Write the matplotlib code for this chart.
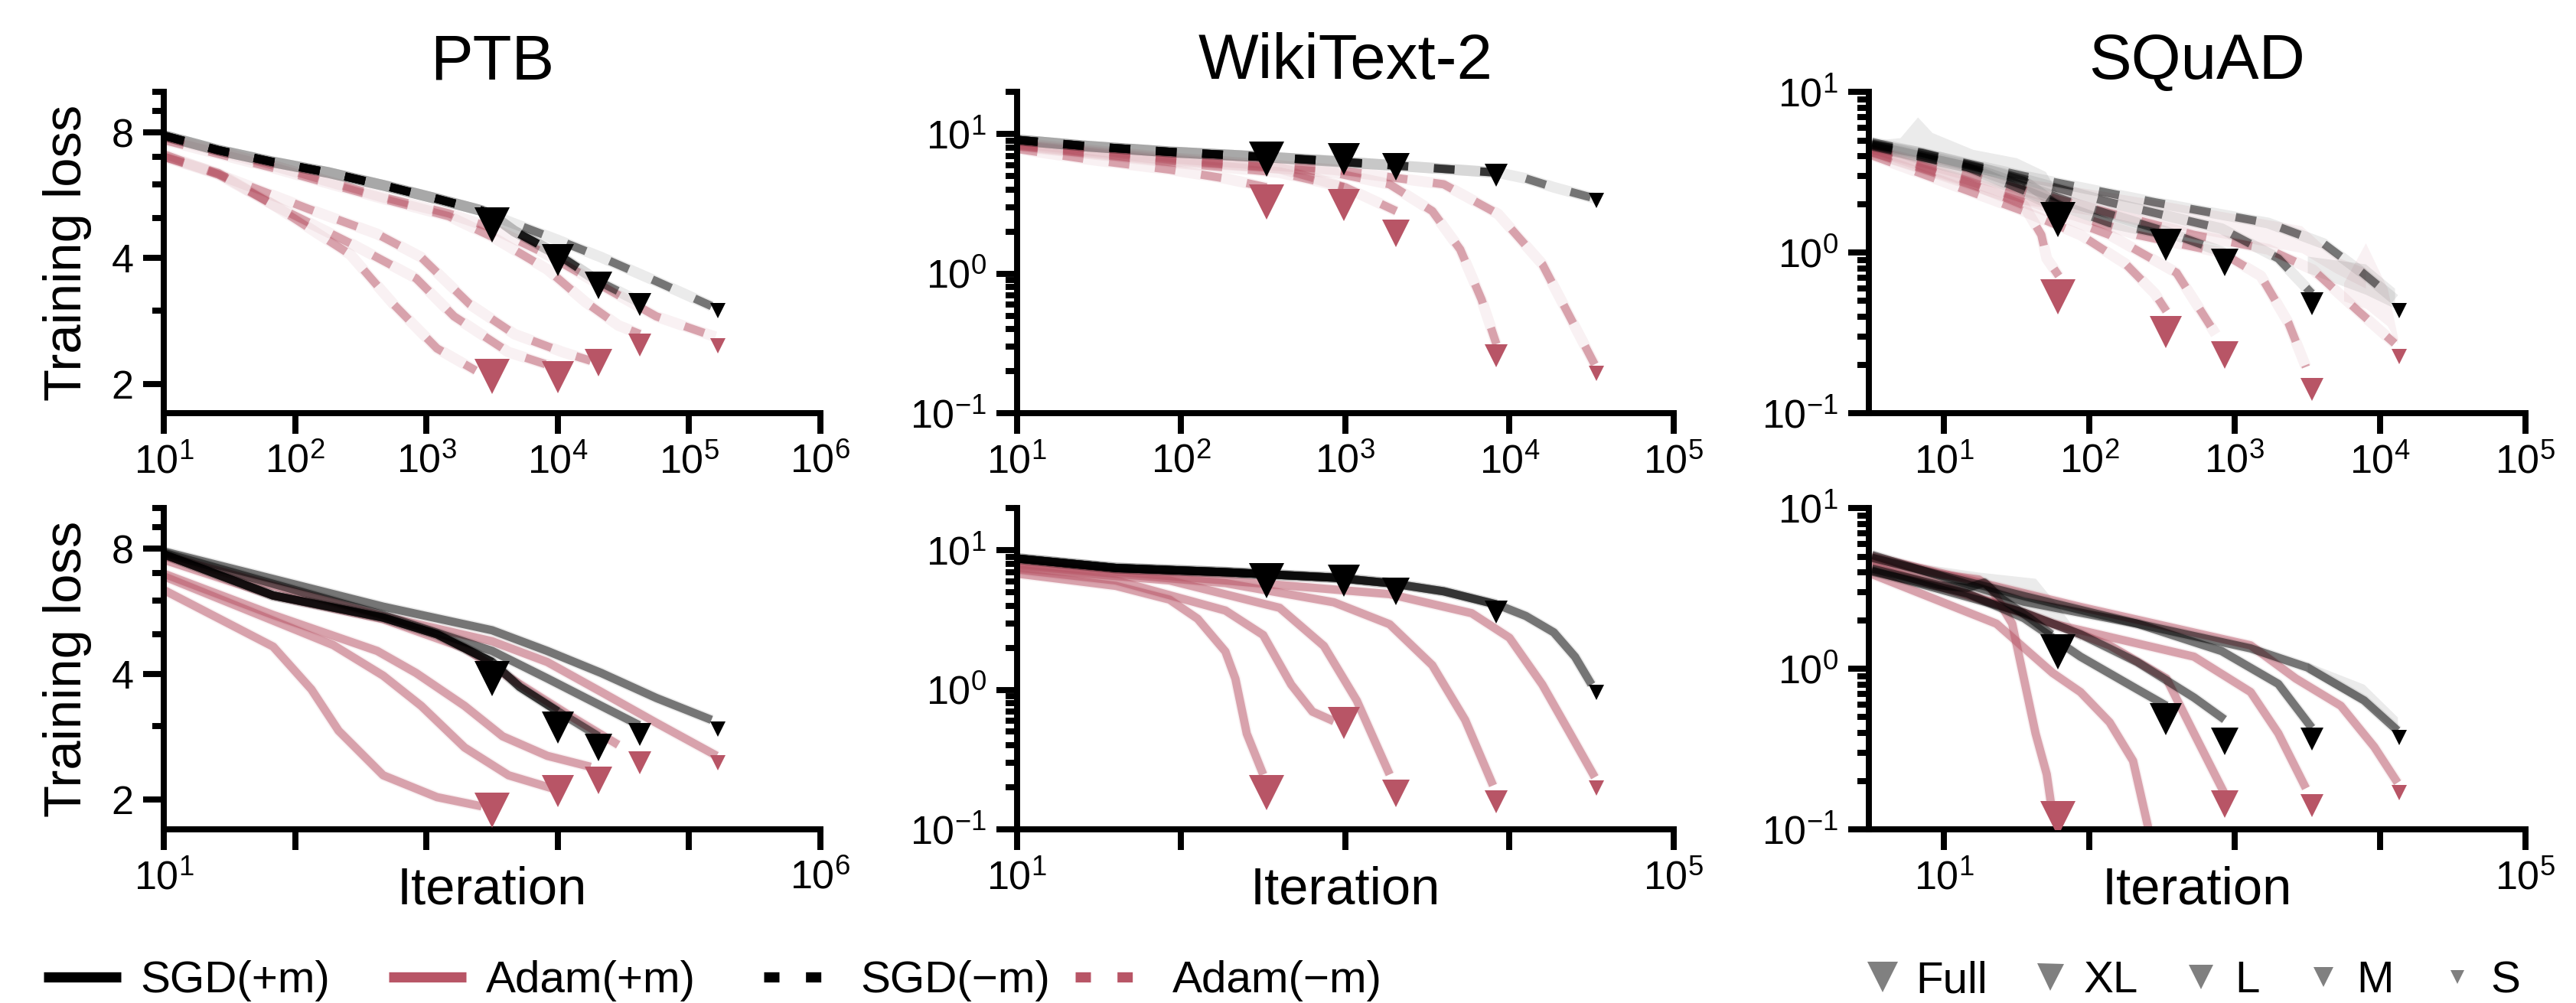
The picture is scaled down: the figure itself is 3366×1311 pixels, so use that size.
import numpy as np
import matplotlib
matplotlib.use("Agg")
import matplotlib.pyplot as plt
from matplotlib.lines import Line2D
from matplotlib.ticker import NullLocator, NullFormatter, FixedLocator

plt.rcParams["font.family"] = ["Liberation Sans", "DejaVu Sans"]
plt.rcParams["mathtext.default"] = "regular"

SIZES = ["Full", "XL", "L", "M", "S"]
DATASETS = ["PTB", "WikiText-2", "SQuAD"]

# final iteration of each model size, per dataset
PTB_END = [3162, 10000, 20417, 42170, 165959]
WIKI_END = [331, 977, 2042, 8318, 33884]
SQUAD_END = [61, 335, 851, 3388, 13490]

# ---------------- PTB, no momentum (top) ----------------
PTB_SGD_NOM = {
    "Full": ([10, 26, 68, 178, 468, 1202, 2630, 3162], [7.87, 7.26, 6.80, 6.42, 5.98, 5.55, 5.20, 5.07]),
    "XL": ([10, 26, 68, 178, 468, 1202, 2630, 3162, 4677, 10000], [7.87, 7.26, 6.80, 6.42, 5.98, 5.55, 5.20, 5.07, 4.64, 4.08]),
    "L": ([10, 26, 68, 178, 468, 1202, 2630, 3162, 4677, 10000, 20417], [7.87, 7.26, 6.80, 6.42, 5.98, 5.55, 5.20, 5.07, 4.64, 4.08, 3.52]),
    "M": ([10, 26, 68, 178, 468, 1202, 2630, 3162, 4677, 10000, 20417, 42170], [7.87, 7.26, 6.80, 6.42, 5.98, 5.55, 5.20, 5.07, 4.64, 4.08, 3.52, 3.14]),
    "S": ([10, 26, 68, 178, 468, 1202, 2630, 3162, 10000, 21380, 56234, 147911], [7.87, 7.26, 6.80, 6.42, 5.98, 5.55, 5.20, 5.07, 4.42, 4.02, 3.52, 3.07]),
}
PTB_ADAM_NOM = {
    "Full": ([10, 26, 68, 263, 562, 1202, 2371], [7.0, 6.35, 5.37, 4.08, 3.10, 2.43, 2.15]),
    "XL": ([10, 26, 68, 288, 832, 1622, 4217, 9120], [7.0, 6.4, 5.37, 4.28, 3.58, 2.90, 2.38, 2.20]),
    "L": ([10, 32, 126, 422, 912, 2138, 4677, 10965, 17783], [7.1, 6.2, 5.25, 4.57, 4.02, 3.10, 2.63, 2.38, 2.27]),
    "M": ([10, 68, 468, 1479, 3162, 8318, 16218, 28840, 42170], [7.68, 6.58, 5.55, 5.04, 4.5, 3.76, 3.14, 2.76, 2.63]),
    "S": ([10, 68, 468, 1479, 3162, 8318, 21380, 56234, 158489], [7.8, 6.67, 5.6, 5.12, 4.72, 4.08, 3.44, 2.90, 2.59]),
}
PTB_SGD_NOM_FINAL = [4.8, 3.95, 3.44, 3.1, 3.0]
PTB_ADAM_NOM_FINAL = [2.08, 2.07, 2.25, 2.48, 2.47]

# ---------------- PTB, momentum (bottom) ----------------
PTB_SGD_MOM = {
    "Full": ([10, 68, 468, 1202, 3162], [7.76, 6.18, 5.47, 4.99, 4.28]),
    "XL": ([10, 68, 468, 1202, 3162, 5129, 10000], [7.76, 6.18, 5.47, 4.99, 4.28, 3.73, 3.26]),
    "L": ([10, 68, 468, 1202, 3162, 5129, 10000, 20417], [7.76, 6.18, 5.47, 4.99, 4.28, 3.73, 3.26, 2.84]),
    "M": ([10, 468, 3162, 8318, 21380, 41687], [7.82, 5.55, 4.55, 3.91, 3.36, 3.02]),
    "S": ([10, 68, 468, 3162, 8318, 21380, 56234, 147911], [7.88, 6.77, 5.81, 5.1, 4.55, 4.03, 3.51, 3.11]),
}
PTB_ADAM_MOM = {
    "Full": ([10, 68, 133, 214, 468, 1202, 2630], [6.37, 4.66, 3.68, 2.93, 2.29, 2.03, 1.93]),
    "XL": ([10, 68, 195, 468, 912, 1950, 4217, 9120], [6.87, 5.38, 4.70, 3.97, 3.36, 2.67, 2.29, 2.13]),
    "L": ([10, 68, 422, 832, 1950, 3802, 8318, 17783], [6.97, 5.55, 4.55, 4.03, 3.36, 2.84, 2.55, 2.40]),
    "M": ([10, 68, 468, 1950, 5129, 12023, 28840], [7.53, 6.18, 5.42, 4.62, 3.79, 3.2, 2.71]),
    "S": ([10, 468, 3162, 8318, 21380, 56234, 162181], [7.7, 5.51, 4.8, 4.28, 3.63, 3.06, 2.55]),
}
PTB_SGD_MOM_FINAL = [3.91, 2.98, 2.67, 2.87, 2.95]
PTB_ADAM_MOM_FINAL = [1.89, 2.1, 2.23, 2.45, 2.45]

# ---------------- WikiText-2, no momentum ----------------
WIKI_SGD_NOM = {
    "Full": ([10, 27, 85, 331], [9.1, 8.2, 7.47, 6.85]),
    "XL": ([10, 27, 85, 398, 977], [9.1, 8.2, 7.47, 6.77, 6.4]),
    "L": ([10, 27, 85, 398, 2042], [9.1, 8.2, 7.47, 6.77, 5.95]),
    "M": ([10, 27, 85, 398, 1862, 8318], [9.1, 8.2, 7.47, 6.77, 6.0, 5.3]),
    "S": ([10, 27, 85, 398, 1862, 8511, 12589, 18621, 29512, 33884], [9.1, 8.2, 7.47, 6.77, 6.0, 5.3, 4.81, 4.16, 3.59, 3.45]),
}
WIKI_ADAM_NOM = {
    "Full": ([10, 27, 85, 186, 331], [7.84, 6.6, 5.57, 4.81, 4.16]),
    "XL": ([10, 85, 398, 977], [8.2, 6.3, 5.3, 4.16]),
    "L": ([10, 85, 398, 1000, 2042], [8.3, 6.44, 5.7, 4.16, 2.81]),
    "M": ([10, 85, 851, 1862, 3388, 5012, 6761, 8318], [8.4, 6.6, 5.3, 4.37, 2.81, 1.49, 0.652, 0.313]),
    "S": ([10, 85, 851, 3981, 8511, 15849, 23442, 33113], [8.63, 6.77, 5.57, 4.37, 2.68, 1.17, 0.485, 0.222]),
}
WIKI_SGD_NOM_FINAL = [6.6, 6.6, 5.85, 5.05, 3.34]
WIKI_ADAM_NOM_FINAL = [3.26, 3.1, 1.95, 0.258, 0.192]

# ---------------- WikiText-2, momentum ----------------
WIKI_SGD_MOM = {
    "Full": ([10, 40, 186, 331], [8.74, 7.47, 6.97, 6.75]),
    "XL": ([10, 40, 186, 851, 977], [8.74, 7.47, 6.97, 6.37, 6.3]),
    "L": ([10, 40, 186, 851, 1862, 2042], [8.74, 7.47, 6.97, 6.37, 5.82, 5.7]),
    "M": ([10, 40, 186, 851, 1862, 3981, 8318], [8.74, 7.47, 6.97, 6.37, 5.82, 5.08, 4.1]),
    "S": ([10, 40, 186, 851, 1862, 3981, 8511, 12589, 18621, 25119, 31623], [8.74, 7.47, 6.97, 6.37, 5.82, 5.08, 4.06, 3.38, 2.58, 1.72, 1.09]),
}
WIKI_ADAM_MOM = {
    "Full": ([10, 40, 85, 126, 186, 214, 251, 316], [6.81, 5.56, 4.43, 3.23, 1.88, 1.2, 0.485, 0.247]),
    "XL": ([10, 40, 186, 316, 468, 631, 851], [7.29, 6.08, 3.7, 2.47, 1.09, 0.697, 0.596]),
    "L": ([10, 85, 398, 741, 1175, 1862], [7.47, 6.08, 3.87, 2.06, 0.836, 0.247]),
    "M": ([10, 186, 851, 1862, 3388, 5370, 7943], [7.8, 5.82, 4.24, 2.95, 1.5, 0.608, 0.206]),
    "S": ([10, 186, 1862, 5888, 10000, 15849, 23442, 33113], [7.98, 6.08, 4.85, 3.54, 2.36, 1.09, 0.485, 0.236]),
}
WIKI_SGD_MOM_FINAL = [6.08, 6.08, 5.08, 3.62, 0.955]
WIKI_ADAM_MOM_FINAL = [0.184, 0.58, 0.18, 0.157, 0.197]

# ---------------- SQuAD, no momentum ----------------
SQUAD_SGD_NOM = {
    "Full": ([3.2, 7.1, 17.4, 35.5, 61.7], [4.7, 4.2, 3.4, 2.8, 1.95]),
    "XL": ([3.2, 14.5, 56, 138, 339], [4.6, 3.41, 2.06, 1.53, 1.29]),
    "L": ([3.2, 17.4, 87, 339, 851], [4.68, 3.27, 1.97, 1.35, 1.0]),
    "M": ([3.2, 25, 138, 813, 1995, 3388], [4.78, 3.13, 2.06, 1.41, 0.92, 0.557]),
    "S": ([3.2, 35.5, 282, 1698, 4074, 7586, 12589], [4.89, 3.0, 2.06, 1.53, 1.14, 0.748, 0.512]),
}
SQUAD_ADAM_NOM = {
    "Full": ([3.2, 14.5, 35.5, 46.8, 51, 61.7], [4.22, 2.76, 1.97, 1.29, 0.92, 0.716]),
    "XL": ([3.2, 35.5, 87, 178, 282, 339], [4.04, 1.81, 1.29, 0.85, 0.557, 0.432]),
    "L": ([3.2, 35.5, 138, 398, 741], [4.22, 2.06, 1.29, 0.75, 0.31]),
    "M": ([3.2, 35.5, 214, 813, 1514, 2344, 3090], [4.4, 2.15, 1.29, 1.0, 0.716, 0.365, 0.194]),
    "S": ([3.2, 87, 525, 1698, 3467, 7079, 12589], [4.4, 1.97, 1.29, 1.05, 0.78, 0.432, 0.272]),
}
SQUAD_SGD_NOM_FINAL = [1.6, 1.12, 0.867, 0.48, 0.436]
SQUAD_ADAM_NOM_FINAL = [0.533, 0.321, 0.23, 0.141, 0.225]
# seed spread bands (kind, iteration, upper, lower)
SQUAD_NOM_BANDS = [
    ("sgd", [3.2, 5, 6.6, 8.3, 15.8, 31.6, 50, 63], [5.0, 5.2, 7.0, 5.6, 4.4, 3.9, 3.2, 2.2], [4.2, 3.9, 3.6, 3.4, 2.9, 2.3, 1.9, 1.6]),
    ("adam", [35.5, 316, 2884, 4898, 7943], [2.9, 2.1, 1.47, 0.95, 0.8], [2.0, 1.45, 1.0, 0.75, 0.6]),
    ("adam", [5623, 7943, 11220, 13183], [0.65, 1.15, 0.6, 0.3], [0.5, 0.45, 0.35, 0.27]),
    ("sgd", [3162, 7943, 12589], [0.95, 0.85, 0.6], [0.75, 0.55, 0.45]),
]

# ---------------- SQuAD, momentum ----------------
SQUAD_SGD_MOM = {
    "Full": ([3.2, 9.3, 14.5, 19, 25, 39, 55], [4.21, 3.32, 3.19, 3.45, 2.73, 2.07, 1.64]),
    "XL": ([3.2, 14.5, 35.5, 87, 214, 339], [4.04, 2.95, 2.07, 1.19, 0.745, 0.588]),
    "L": ([3.2, 35.5, 87, 214, 525, 851], [4.1, 2.24, 1.64, 1.1, 0.662, 0.483]),
    "M": ([3.2, 35.5, 214, 813, 1995, 3388], [4.92, 2.84, 1.91, 1.29, 0.805, 0.429]),
    "S": ([3.2, 35.5, 214, 1288, 3162, 7762, 13183], [5.12, 2.62, 1.91, 1.34, 1.02, 0.635, 0.412]),
}
SQUAD_ADAM_MOM = {
    "Full": ([3.2, 9.3, 17.4, 21, 29.5, 35.5, 42.7, 51, 55], [4.92, 3.89, 3.6, 3.19, 1.91, 0.87, 0.396, 0.22, 0.137]),
    "XL": ([3.2, 23, 56, 87, 138, 200, 257], [3.89, 1.91, 0.942, 0.716, 0.464, 0.267, 0.098]),
    "L": ([3.2, 35.5, 138, 339, 525, 851], [4.37, 2.24, 1.4, 0.87, 0.396, 0.167]),
    "M": ([3.2, 56, 525, 1288, 1995, 3090], [4.73, 1.91, 1.19, 0.716, 0.396, 0.18]),
    "S": ([3.2, 87, 1288, 2630, 5370, 9120, 13183], [5.02, 2.43, 1.4, 0.87, 0.588, 0.326, 0.195]),
}
SQUAD_SGD_MOM_FINAL = [1.27, 0.483, 0.352, 0.366, 0.374]
SQUAD_ADAM_MOM_FINAL = [0.116, np.nan, 0.143, 0.14, 0.17]
SQUAD_MOM_BANDS = [
    ("sgd", [3.2, 17.4, 42.7, 61.7, 87], [5.0, 4.0, 3.66, 2.43, 1.57], [4.0, 2.9, 2.2, 1.8, 1.5]),
    ("sgd", [3162, 7762, 13183], [1.1, 0.8, 0.5], [0.95, 0.6, 0.4]),
]

SGD_COLOR = "black"
ADAM_COLOR = "#b85566"
MARKER_SIZES = [11, 10, 8.7, 7.3, 5.0]
LEGEND_MARKER_SIZES = [9.4, 8.4, 7.7, 6.2, 4.3]
LW = 2.6
DASH = (0, (2.5, 3.1))

panels = [
    # row, col, sgd, adam, sgd_final, adam_final, ends, bands, dashed
    (0, 0, PTB_SGD_NOM, PTB_ADAM_NOM, PTB_SGD_NOM_FINAL, PTB_ADAM_NOM_FINAL, PTB_END, [], True),
    (0, 1, WIKI_SGD_NOM, WIKI_ADAM_NOM, WIKI_SGD_NOM_FINAL, WIKI_ADAM_NOM_FINAL, WIKI_END, [], True),
    (0, 2, SQUAD_SGD_NOM, SQUAD_ADAM_NOM, SQUAD_SGD_NOM_FINAL, SQUAD_ADAM_NOM_FINAL, SQUAD_END, SQUAD_NOM_BANDS, True),
    (1, 0, PTB_SGD_MOM, PTB_ADAM_MOM, PTB_SGD_MOM_FINAL, PTB_ADAM_MOM_FINAL, PTB_END, [], False),
    (1, 1, WIKI_SGD_MOM, WIKI_ADAM_MOM, WIKI_SGD_MOM_FINAL, WIKI_ADAM_MOM_FINAL, WIKI_END, [], False),
    (1, 2, SQUAD_SGD_MOM, SQUAD_ADAM_MOM, SQUAD_SGD_MOM_FINAL, SQUAD_ADAM_MOM_FINAL, SQUAD_END, SQUAD_MOM_BANDS, False),
]

XLIMS = [(10, 1e6), (10, 1e5), (3.05, 1e5)]
XDECADES = [range(1, 7), range(1, 6), range(1, 6)]
YLIMS = [(1.7, 10), (0.1, 20), (0.1, 10)]

LEFTS = [0.0636, 0.3948, 0.7255]
BOTTOMS = [0.5881, 0.1732]
W, H = 0.2549, 0.320

fig = plt.figure(figsize=(11.22, 4.37), dpi=300)


def draw_curves(ax, curves, color, dashed):
    for name in SIZES:
        it, loss = curves[name]
        ax.plot(it, loss, color=color, lw=LW + 0.8, alpha=0.08, solid_capstyle="butt")
        ax.plot(it, loss, color=color, lw=LW, alpha=0.5,
                ls=DASH if dashed else "-", solid_capstyle="butt", dash_capstyle="butt")


for row, col, sgd, adam, sgd_fin, adam_fin, ends, bands, dashed in panels:
    ax = fig.add_axes([LEFTS[col], BOTTOMS[row], W, H])
    ax.set_xscale("log")
    ax.set_yscale("log")

    for kind, bx, up, lo in bands:
        c = SGD_COLOR if kind == "sgd" else ADAM_COLOR
        ax.fill_between(bx, lo, up, color=c, alpha=0.08, lw=0)

    draw_curves(ax, adam, ADAM_COLOR, dashed)
    draw_curves(ax, sgd, SGD_COLOR, dashed)

    for i in range(5):
        ax.plot([ends[i]], [adam_fin[i]], marker="v", ms=MARKER_SIZES[i], color=ADAM_COLOR,
                ls="none", mew=0, zorder=6)
        ax.plot([ends[i]], [sgd_fin[i]], marker="v", ms=MARKER_SIZES[i], color=SGD_COLOR,
                ls="none", mew=0, zorder=7)

    ax.set_xlim(*XLIMS[col])
    ax.set_ylim(*YLIMS[col])

    decs = list(XDECADES[col])
    ticks = [10.0 ** k for k in decs]
    if row == 0:
        labels = [f"$10^{{{k}}}$" for k in decs]
    else:
        labels = [f"$10^{{{k}}}$" if k in (decs[0], decs[-1]) else "" for k in decs]
    ax.set_xticks(ticks, labels)
    ax.xaxis.set_minor_locator(NullLocator())

    if col == 0:
        ax.yaxis.set_major_locator(FixedLocator([2, 4, 8]))
        ax.set_yticklabels(["2", "4", "8"])
        ax.yaxis.set_minor_locator(FixedLocator([3, 5, 6, 7, 9, 10]))
        ax.yaxis.set_minor_formatter(NullFormatter())
        ax.set_ylabel("Training loss", fontsize=16.5, labelpad=6)

    for s in ["top", "right"]:
        ax.spines[s].set_visible(False)
    for s in ["left", "bottom"]:
        ax.spines[s].set_linewidth(1.9)
    ax.tick_params(which="major", length=6.5, width=1.9, labelsize=12.5, pad=3)
    ax.tick_params(which="minor", length=3.5, width=1.9)

    if row == 0:
        ax.set_title(DATASETS[col], fontsize=20, pad=1)
    else:
        ax.set_xlabel("Iteration", fontsize=16.5, labelpad=-10)

# optimizer legend, one entry per position
opt_handles = [
    Line2D([], [], color=SGD_COLOR, lw=3.2, solid_capstyle="butt"),
    Line2D([], [], color=ADAM_COLOR, lw=3.2, solid_capstyle="butt"),
    Line2D([], [], color=SGD_COLOR, lw=3.2, ls=(0, (1.5, 2.6)), dash_capstyle="butt"),
    Line2D([], [], color=ADAM_COLOR, lw=3.2, ls=(0, (1.5, 2.6)), dash_capstyle="butt"),
]
opt_labels = ["SGD(+m)", "Adam(+m)", "SGD(\u2212m)", "Adam(\u2212m)"]
OPT_LEG_X = [0.017, 0.151, 0.2965, 0.4175]
for x, h, lab in zip(OPT_LEG_X, opt_handles, opt_labels):
    fig.legend([h], [lab], loc="center left", bbox_to_anchor=(x, 0.022), frameon=False,
               fontsize=14, handlelength=1.72, handletextpad=0.45, borderpad=0, borderaxespad=0)

# model size legend
size_handles = [Line2D([], [], marker="v", ls="none", color="#808080", mew=0, ms=m)
                for m in LEGEND_MARKER_SIZES]
SIZE_LEG_X = [0.7239, 0.789, 0.8475, 0.895, 0.947]
for x, h, lab in zip(SIZE_LEG_X, size_handles, SIZES):
    fig.legend([h], [lab], loc="center left", bbox_to_anchor=(x, 0.022), frameon=False,
               fontsize=14, handlelength=0.8, handletextpad=0.35, borderpad=0, borderaxespad=0)

fig.savefig("out.png", dpi=300)
